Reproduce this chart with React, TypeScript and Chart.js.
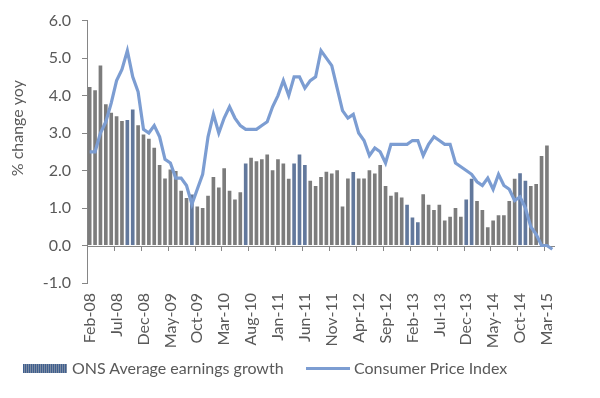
import React, { useEffect, useRef } from "react";
import { Chart, registerables } from "chart.js";

Chart.register(...registerables);

// Categories: Feb-08 .. Apr-15 (monthly)
const MONTHS: string[] = [
  "Feb-08", "Mar-08", "Apr-08", "May-08", "Jun-08", "Jul-08", "Aug-08", "Sep-08", "Oct-08", "Nov-08", "Dec-08",
  "Jan-09", "Feb-09", "Mar-09", "Apr-09", "May-09", "Jun-09", "Jul-09", "Aug-09", "Sep-09", "Oct-09", "Nov-09", "Dec-09",
  "Jan-10", "Feb-10", "Mar-10", "Apr-10", "May-10", "Jun-10", "Jul-10", "Aug-10", "Sep-10", "Oct-10", "Nov-10", "Dec-10",
  "Jan-11", "Feb-11", "Mar-11", "Apr-11", "May-11", "Jun-11", "Jul-11", "Aug-11", "Sep-11", "Oct-11", "Nov-11", "Dec-11",
  "Jan-12", "Feb-12", "Mar-12", "Apr-12", "May-12", "Jun-12", "Jul-12", "Aug-12", "Sep-12", "Oct-12", "Nov-12", "Dec-12",
  "Jan-13", "Feb-13", "Mar-13", "Apr-13", "May-13", "Jun-13", "Jul-13", "Aug-13", "Sep-13", "Oct-13", "Nov-13", "Dec-13",
  "Jan-14", "Feb-14", "Mar-14", "Apr-14", "May-14", "Jun-14", "Jul-14", "Aug-14", "Sep-14", "Oct-14", "Nov-14", "Dec-14",
  "Jan-15", "Feb-15", "Mar-15", "Apr-15",
];

// ONS Average earnings growth (% yoy)
const EARNINGS: (number | null)[] = [
  4.23, 4.14, 4.8, 3.77, 3.54, 3.45, 3.32, 3.35, 3.63, 3.21, 2.96,
  2.85, 2.61, 2.15, 1.79, 2.03, 1.99, 1.46, 1.27, 1.36, 1.04, 1.0, 1.33,
  1.83, 1.55, 2.06, 1.46, 1.23, 1.42, 2.19, 2.34, 2.25, 2.3, 2.43, 2.01,
  2.3, 2.19, 1.78, 2.19, 2.43, 2.15, 1.73, 1.59, 1.83, 1.97, 1.92, 2.01,
  1.04, 1.79, 1.96, 1.79, 1.79, 2.01, 1.92, 2.15, 1.59, 1.33, 1.42, 1.28,
  1.09, 0.75, 0.62, 1.37, 1.09, 0.95, 1.09, 0.67, 0.77, 1.0, 0.77, 1.23,
  1.78, 1.19, 0.95, 0.49, 0.67, 0.81, 0.81, 1.19, 1.78, 1.93, 1.73, 1.59,
  1.64, 2.39, 2.67, null,
];

// Consumer Price Index (% yoy)
const CPI: number[] = [
  2.5, 2.5, 3.0, 3.3, 3.8, 4.4, 4.7, 5.2, 4.5, 4.1, 3.1,
  3.0, 3.2, 2.9, 2.3, 2.2, 1.8, 1.8, 1.6, 1.1, 1.5, 1.9, 2.9,
  3.5, 3.0, 3.4, 3.7, 3.4, 3.2, 3.1, 3.1, 3.1, 3.2, 3.3, 3.7,
  4.0, 4.4, 4.0, 4.5, 4.5, 4.2, 4.4, 4.5, 5.2, 5.0, 4.8, 4.2,
  3.6, 3.4, 3.5, 3.0, 2.8, 2.4, 2.6, 2.5, 2.2, 2.7, 2.7, 2.7,
  2.7, 2.8, 2.8, 2.4, 2.7, 2.9, 2.8, 2.7, 2.7, 2.2, 2.1, 2.0,
  1.9, 1.7, 1.6, 1.8, 1.5, 1.9, 1.6, 1.5, 1.2, 1.3, 1.0, 0.5,
  0.3, 0.0, 0.0, -0.1,
];

const Y_MIN = -1;
const Y_MAX = 6;
const Y_STEP = 1;
const LABEL_EVERY = 5;

const SERIES_NAMES = ["ONS Average earnings growth", "Consumer Price Index"];
const Y_TITLE = "% change yoy";

// styling: bars that show the blue tint of the patterned fill
const TINTED_BARS = [7, 8, 19, 29, 38, 39, 40, 49, 59, 60, 61, 70, 71, 80, 81];

const TEXT = "#595959";
const AXIS = "#868686";
const BAR = "#7c7c7c";
const BAR_TINT = "#62789c";
const LINE = "#7c9dd2";
const FONT = "Lato, 'Open Sans', sans-serif";

const axisDecor = {
  id: "axisDecor",
  beforeDatasetsDraw(chart: any) {
    const { ctx, scales } = chart;
    const x = scales.x;
    const y = scales.y;
    const y0 = y.getPixelForValue(0);
    ctx.save();
    ctx.strokeStyle = AXIS;
    ctx.lineWidth = 1;
    ctx.beginPath();
    ctx.moveTo(x.left, Math.round(y0) + 0.5);
    ctx.lineTo(x.right, Math.round(y0) + 0.5);
    const half = (x.getPixelForValue(1) - x.getPixelForValue(0)) / 2;
    for (let i = LABEL_EVERY; i < MONTHS.length; i += LABEL_EVERY) {
      const px = Math.round(x.getPixelForValue(i) - half) + 0.5;
      ctx.moveTo(px, Math.round(y0));
      ctx.lineTo(px, Math.round(y0) + 5);
    }
    ctx.stroke();
    ctx.restore();
  },
  afterDraw(chart: any) {
    const { ctx, chartArea } = chart;
    ctx.save();
    ctx.fillStyle = TEXT;
    ctx.font = `16px ${FONT}`;
    ctx.textAlign = "center";
    ctx.textBaseline = "middle";
    ctx.translate(18, chartArea.top + (chartArea.bottom - chartArea.top) * 0.41);
    ctx.rotate(-Math.PI / 2);
    ctx.fillText(Y_TITLE, 0, 0);
    ctx.restore();
  },
};

export default function App() {
  const ref = useRef<HTMLCanvasElement>(null);

  useEffect(() => {
    const canvas = ref.current!;
    const chart = new Chart(canvas, {
      type: "bar",
      data: {
        labels: MONTHS,
        datasets: [
          {
            type: "line",
            label: SERIES_NAMES[1],
            data: CPI,
            borderColor: LINE,
            backgroundColor: LINE,
            borderWidth: 3.2,
            pointRadius: 0,
            tension: 0,
            order: 0,
          } as any,
          {
            type: "bar",
            label: SERIES_NAMES[0],
            data: EARNINGS,
            backgroundColor: EARNINGS.map((_, i) => (TINTED_BARS.includes(i) ? BAR_TINT : BAR)),
            borderWidth: 0,
            categoryPercentage: 1,
            barPercentage: 0.68,
            order: 1,
          },
        ],
      },
      options: {
        responsive: false,
        animation: false,
        devicePixelRatio: 1,
        layout: { padding: { left: 0, right: 45, top: 19, bottom: 0 } },
        plugins: {
          legend: { display: false },
          tooltip: { enabled: false },
        },
        scales: {
          x: {
            type: "category",
            offset: true,
            border: { display: false },
            grid: { display: false, drawTicks: false },
            ticks: {
              autoSkip: false,
              minRotation: 90,
              maxRotation: 90,
              padding: 10,
              color: TEXT,
              font: { family: FONT, size: 16 },
              callback: (_v: any, i: number) => (i % LABEL_EVERY === 0 ? MONTHS[i] : ""),
            },
            afterFit: (s: any) => {
              s.height = 115;
            },
          },
          y: {
            type: "linear",
            min: Y_MIN,
            max: Y_MAX,
            border: { display: true, color: AXIS, width: 1 },
            grid: { drawOnChartArea: false, drawTicks: true, tickLength: 5, color: AXIS },
            ticks: {
              stepSize: Y_STEP,
              padding: 11,
              color: TEXT,
              font: { family: FONT, size: 16 },
              callback: (v: any) => Number(v).toFixed(1),
            },
            afterFit: (s: any) => {
              s.width = 87;
            },
          },
        },
      },
      plugins: [axisDecor],
    });
    return () => chart.destroy();
  }, []);

  const legendText: React.CSSProperties = {
    position: "absolute",
    top: 358,
    height: 20,
    lineHeight: "20px",
    fontFamily: FONT,
    fontSize: 16,
    color: TEXT,
    whiteSpace: "nowrap",
  };

  return (
    <div style={{ position: "fixed", left: 0, top: 0, width: 600, height: 398, background: "#ffffff", overflow: "hidden" }}>
      <canvas ref={ref} width={600} height={398} style={{ display: "block", width: 600, height: 398 }} />
      <div
        style={{
          position: "absolute",
          left: 23,
          top: 364,
          width: 44,
          height: 9,
          background: "repeating-linear-gradient(90deg, #3f5f8f 0px, #3f5f8f 1px, #7d8ca3 1px, #7d8ca3 2px)",
        }}
      />
      <div style={{ ...legendText, left: 72 }}>{SERIES_NAMES[0]}</div>
      <div style={{ position: "absolute", left: 306, top: 367, width: 44, height: 3, background: LINE }} />
      <div style={{ ...legendText, left: 354 }}>{SERIES_NAMES[1]}</div>
    </div>
  );
}
